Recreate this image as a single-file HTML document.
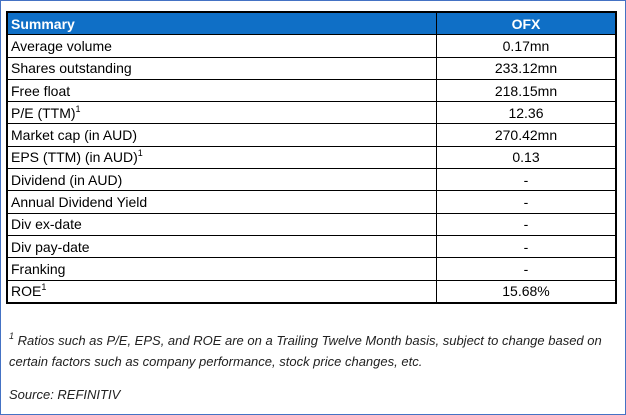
<!DOCTYPE html>
<html><head><meta charset="utf-8"><style>
body{margin:0;width:626px;height:415px;background:#fff;font-family:"Liberation Sans",sans-serif;overflow:hidden}
.frame{position:absolute;left:0;top:0;width:624px;height:413px;border:1px solid #4472c4}
table{position:absolute;left:6px;top:11px;border-collapse:collapse;width:611px;font-size:14px;color:#000}
td{border:1px solid #000;height:21.3px;padding:0 0 0 3px;line-height:20px;white-space:nowrap}
td.v{text-align:center;padding:0;width:178px}
tr.h td{background:#0f6fc6;color:#fff;font-weight:bold;border-color:#000}
table{border:2px solid #000}
sup{font-size:9px;line-height:0;vertical-align:6px}
.note{position:absolute;left:9px;font-size:13px;font-style:italic;color:#222;line-height:21px}
</style></head><body>
<div class="frame"></div>
<table>
<tr class="h"><td>Summary</td><td class="v">OFX</td></tr>
<tr><td>Average volume</td><td class="v">0.17mn</td></tr>
<tr><td>Shares outstanding</td><td class="v">233.12mn</td></tr>
<tr><td>Free float</td><td class="v">218.15mn</td></tr>
<tr><td>P/E (TTM)<sup>1</sup></td><td class="v">12.36</td></tr>
<tr><td>Market cap (in AUD)</td><td class="v">270.42mn</td></tr>
<tr><td>EPS (TTM) (in AUD)<sup>1</sup></td><td class="v">0.13</td></tr>
<tr><td>Dividend (in AUD)</td><td class="v">-</td></tr>
<tr><td>Annual Dividend Yield</td><td class="v">-</td></tr>
<tr><td>Div ex-date</td><td class="v">-</td></tr>
<tr><td>Div pay-date</td><td class="v">-</td></tr>
<tr><td>Franking</td><td class="v">-</td></tr>
<tr><td>ROE<sup>1</sup></td><td class="v">15.68%</td></tr>
</table>
<div class="note" style="top:330px"><sup>1</sup> Ratios such as P/E, EPS, and ROE are on a Trailing Twelve Month basis, subject to change based on<br>certain factors such as company performance, stock price changes, etc.</div>
<div class="note" style="top:384px">Source: REFINITIV</div>
</body></html>
